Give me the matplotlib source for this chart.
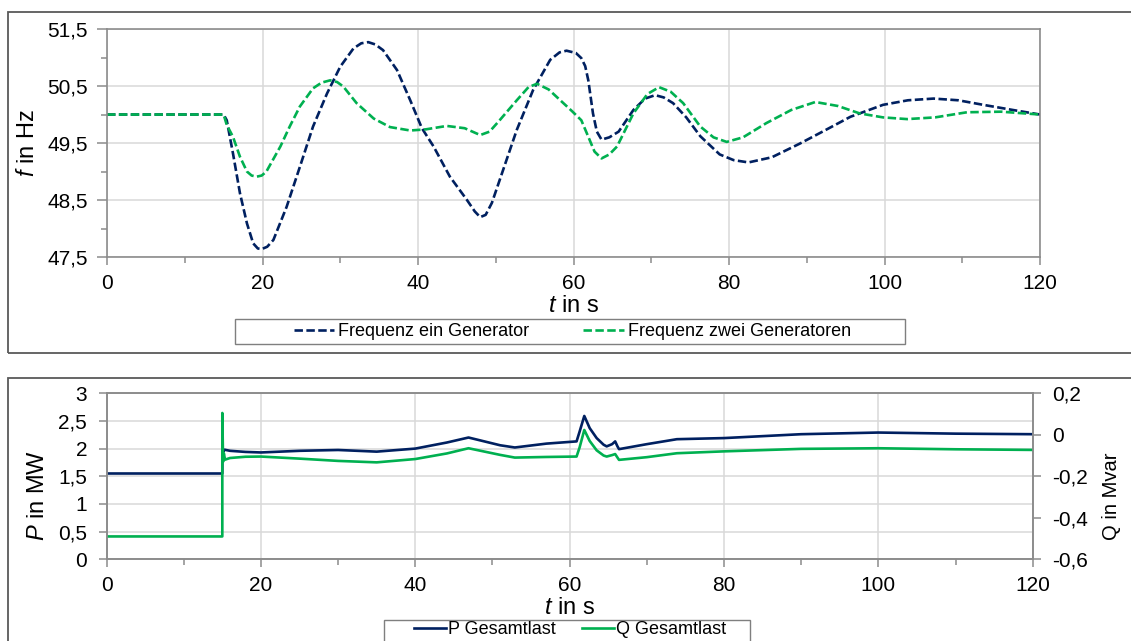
import matplotlib
matplotlib.use("Agg")
import matplotlib.pyplot as plt
from matplotlib.patches import Rectangle
from matplotlib.ticker import MultipleLocator, FuncFormatter

plt.rcParams['font.family'] = ['Liberation Sans', 'DejaVu Sans']
plt.rcParams['mathtext.fontset'] = 'custom'
plt.rcParams['mathtext.rm'] = 'Liberation Sans'
plt.rcParams['mathtext.it'] = 'Liberation Sans:italic'

# === DATA ===

# top panel: frequency, one generator
t_f1 = [0, 15, 15.4, 16.2, 17.1, 18.0, 18.8, 19.4, 19.9, 20.6, 21.4, 23.1, 24.8, 26.5,
        28.3, 30.0, 31.7, 32.7, 33.6, 34.5, 35.5, 37.3, 39.0, 40.5, 42.0, 44.1, 46.3,
        47.3, 48.0, 48.7, 49.5, 50.5, 52.7, 54.8, 57.0, 58.2, 59.1, 60.3, 61.0, 61.5,
        61.9, 62.5, 63.0, 63.6, 64.6, 65.8, 67.7, 69.2, 70.5, 71.6, 72.8, 74.5, 76.3,
        78.8, 80.6, 82.5, 85.5, 89.1, 92.3, 95.6, 99.8, 103.0, 106.3, 109.5, 112.7,
        116.5, 120]
f1 = [50.0, 50.0, 49.9, 49.32, 48.62, 48.09, 47.74, 47.65, 47.64, 47.68, 47.8, 48.38,
      49.08, 49.79, 50.37, 50.84, 51.16, 51.25, 51.27, 51.23, 51.13, 50.78, 50.25, 49.76,
      49.44, 48.91, 48.5, 48.3, 48.2, 48.24, 48.45, 48.85, 49.73, 50.43, 50.96, 51.09,
      51.12, 51.08, 50.99, 50.85, 50.6, 50.02, 49.7, 49.56, 49.6, 49.7, 50.08, 50.28,
      50.34, 50.3, 50.2, 49.95, 49.62, 49.3, 49.2, 49.16, 49.25, 49.49, 49.72, 49.96,
      50.17, 50.25, 50.28, 50.25, 50.17, 50.08, 50.0]

# top panel: frequency, two generators
t_f2 = [0, 15, 15.4, 16.2, 17.1, 18.0, 18.6, 19.25, 19.9, 20.5, 22.3, 23.5, 24.8, 26.5,
        27.6, 28.7, 29.6, 30.4, 32.1, 34.3, 36.4, 39.0, 41.0, 43.7, 46.0, 48.0, 49.2,
        50.5, 52.7, 54.2, 55.3, 56.8, 58.3, 59.8, 61.0, 61.9, 62.7, 63.6, 64.6, 65.6,
        67.7, 69.5, 71.0, 72.5, 74.1, 76.3, 78.0, 79.7, 81.8, 84.8, 88.0, 91.1, 94.0,
        96.8, 99.8, 102.9, 106.5, 110.6, 115.0, 120]
f2 = [50.0, 50.0, 49.82, 49.61, 49.26, 49.0, 48.93, 48.91, 48.93, 49.0, 49.44, 49.79,
      50.14, 50.46, 50.56, 50.6, 50.57, 50.49, 50.2, 49.93, 49.78, 49.72, 49.74, 49.8,
      49.76, 49.64, 49.7, 49.9, 50.25, 50.48, 50.54, 50.44, 50.25, 50.06, 49.9, 49.61,
      49.35, 49.23, 49.3, 49.44, 50.02, 50.36, 50.48, 50.4, 50.2, 49.79, 49.6, 49.52,
      49.6, 49.85, 50.08, 50.22, 50.15, 50.02, 49.95, 49.92, 49.95, 50.04, 50.05, 50.0]

# bottom panel: active power P (left axis)
t_p = [0, 15.0, 15.0, 15.1, 15.3, 16, 18, 20, 25, 30, 35, 40, 44.1, 46.9, 51.0, 52.9,
       57.0, 60.9, 61.3, 61.9, 62.6, 63.5, 64.4, 64.8, 65.5, 65.9, 66.2, 66.4, 70.0,
       73.9, 80, 90, 100, 110, 120]
p_load = [1.55, 1.55, 1.99, 1.94, 1.98, 1.96, 1.94, 1.93, 1.96, 1.975, 1.945, 2.0,
          2.11, 2.2, 2.06, 2.02, 2.09, 2.13, 2.31, 2.59, 2.37, 2.19, 2.07, 2.04, 2.08,
          2.13, 2.04, 1.99, 2.08, 2.17, 2.19, 2.26, 2.29, 2.27, 2.26]

# bottom panel: reactive power Q (right axis)
t_q = [0, 15.0, 15.0, 15.1, 15.2, 15.35, 16, 18, 20, 25, 30, 35, 40, 44.1, 46.9, 51.0,
       52.9, 57.0, 60.9, 61.3, 61.9, 62.6, 63.5, 64.4, 64.8, 65.5, 65.9, 66.2, 66.4,
       70.0, 73.9, 80, 90, 100, 110, 120]
q_load = [-0.49, -0.49, 0.105, -0.13, -0.09, -0.12, -0.112, -0.106, -0.105, -0.115,
          -0.126, -0.133, -0.117, -0.09, -0.065, -0.097, -0.11, -0.107, -0.105, -0.06,
          0.023, -0.03, -0.075, -0.1, -0.105, -0.098, -0.093, -0.11, -0.121, -0.108,
          -0.089, -0.08, -0.068, -0.065, -0.07, -0.073]

navy = '#002060'
green = '#00b050'
spine_gray = '#8c8c8c'
grid_gray = '#d9d9d9'


def comma_fmt(v, pos):
    s = f"{v:.2f}".rstrip('0').rstrip('.')
    if s in ('-0', ''):
        s = '0'
    return s.replace('.', ',')


def style_axis(ax):
    for sp in ax.spines.values():
        sp.set_color(spine_gray)
        sp.set_linewidth(1.2)
    ax.tick_params(which='both', colors=spine_gray, labelcolor='black',
                   labelsize=15, direction='out', width=1.1)
    ax.tick_params(which='major', length=6)
    ax.tick_params(which='minor', length=4)
    ax.grid(which='major', color=grid_gray, linewidth=1.1)
    ax.set_axisbelow(True)


fig = plt.figure(figsize=(11.31, 6.41), dpi=100)

# === TOP PANEL: frequency ===
ax1 = fig.add_axes([0.0946, 0.599, 0.825, 0.3557])
dash = (0, (3.2, 1.3))
ax1.plot(t_f1, f1, color=navy, lw=1.9, linestyle=dash, label='Frequenz ein Generator')
ax1.plot(t_f2, f2, color=green, lw=1.9, linestyle=dash, label='Frequenz zwei Generatoren')
ax1.set_xlim(0, 120)
ax1.set_ylim(47.5, 51.5)
ax1.xaxis.set_major_locator(MultipleLocator(20))
ax1.xaxis.set_minor_locator(MultipleLocator(10))
ax1.set_yticks([47.5, 48.5, 49.5, 50.5, 51.5])
ax1.set_yticks([48, 49, 50, 51], minor=True)
ax1.yaxis.set_major_formatter(FuncFormatter(comma_fmt))
style_axis(ax1)
ax1.tick_params(axis='y', which='major', length=7, pad=7)
ax1.tick_params(axis='x', pad=6)
ax1.set_xlabel(r'$t$ in s', fontsize=17, va='center')
ax1.xaxis.set_label_coords(0.5, -0.215)
ax1.set_ylabel(r'$f$ in Hz', fontsize=17, va='center')
ax1.yaxis.set_label_coords(-0.0847, 0.5)

# === BOTTOM PANEL: load ===
ax2 = fig.add_axes([0.0942, 0.1275, 0.8189, 0.259])
ax3 = ax2.twinx()
ax2.plot(t_p, p_load, color=navy, lw=1.9, label='P Gesamtlast')
ax3.plot(t_q, q_load, color=green, lw=1.9, label='Q Gesamtlast')
ax2.set_xlim(0, 120)
ax2.set_ylim(0, 3)
ax3.set_ylim(-0.6, 0.2)
ax2.xaxis.set_major_locator(MultipleLocator(20))
ax2.xaxis.set_minor_locator(MultipleLocator(10))
ax2.yaxis.set_major_locator(MultipleLocator(0.5))
ax3.yaxis.set_major_locator(MultipleLocator(0.2))
ax2.yaxis.set_major_formatter(FuncFormatter(comma_fmt))
ax3.yaxis.set_major_formatter(FuncFormatter(comma_fmt))
style_axis(ax2)
style_axis(ax3)
ax3.grid(False)
ax2.tick_params(axis='y', pad=8)
ax3.tick_params(axis='y', pad=8)
ax2.tick_params(axis='x', pad=6)
ax2.set_xlabel(r'$t$ in s', fontsize=17, va='center')
ax2.xaxis.set_label_coords(0.5, -0.293)
ax2.set_ylabel(r'$P$ in MW', fontsize=17, va='center')
ax2.yaxis.set_label_coords(-0.074, 0.387)
ax3.set_ylabel('Q in Mvar', fontsize=14.5, va='center', rotation=90)
ax3.yaxis.set_label_coords(1.0853, 0.382)

# === LEGENDS AND PANEL FRAMES ===
h1, l1 = ax1.get_legend_handles_labels()
fig.legend(h1, l1, loc='center', bbox_to_anchor=(0.506, 0.483), ncol=2,
           frameon=False, fontsize=13, handlelength=2.25, handletextpad=0.2,
           columnspacing=3.0)
h2, l2 = ax2.get_legend_handles_labels()
h3, l3 = ax3.get_legend_handles_labels()
fig.legend(h2 + h3, l2 + l3, loc='center', bbox_to_anchor=(0.504, 0.0172), ncol=2,
           frameon=False, fontsize=13, handlelength=1.75, handletextpad=0.1,
           columnspacing=1.5)

fig.add_artist(Rectangle((235 / 1131, 1 - 344 / 641), 670 / 1131, 25 / 641,
                         transform=fig.transFigure, fill=False, ec='#7f7f7f', lw=1))
fig.add_artist(Rectangle((384 / 1131, 1 - 646 / 641), 366 / 1131, 26 / 641,
                         transform=fig.transFigure, fill=False, ec='#7f7f7f', lw=1))
fig.add_artist(Rectangle((8 / 1131, 1 - 353 / 641), 1130 / 1131, 341 / 641,
                         transform=fig.transFigure, fill=False, ec='#595959', lw=1.3))
fig.add_artist(Rectangle((8 / 1131, 1 - 652 / 641), 1130 / 1131, 274 / 641,
                         transform=fig.transFigure, fill=False, ec='#595959', lw=1.3))

fig.savefig('out.png', dpi=100)
